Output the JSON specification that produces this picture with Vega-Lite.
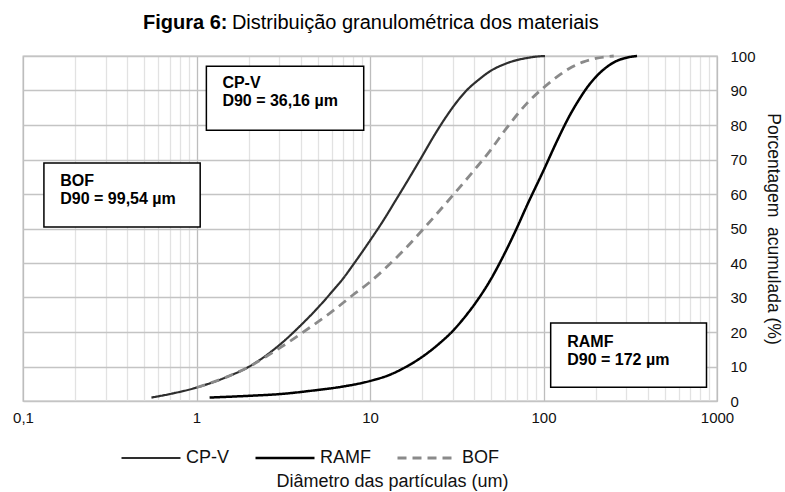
{
  "$schema": "https://vega.github.io/schema/vega-lite/v6.json",
  "autosize": {"type": "none"},
  "width": 694,
  "height": 345,
  "padding": {"left": 23, "top": 56, "right": 68, "bottom": 91},
  "background": "white",
  "title": {
    "text": "Figura 6:",
    "subtitle": "\u200b\u00a0\u00a0\u00a0\u00a0\u00a0\u00a0\u00a0\u00a0\u00a0\u00a0\u00a0\u00a0\u00a0\u00a0\u00a0\u00a0Distribuição granulométrica dos materiais",
    "anchor": "start",
    "frame": "group",
    "dx": 120,
    "offset": 16,
    "fontSize": 20,
    "font": "Liberation Sans",
    "fontWeight": "bold",
    "color": "#000",
    "subtitleFontSize": 20,
    "subtitleFont": "Liberation Sans",
    "subtitleColor": "#000",
    "subtitlePadding": -20
  },
  "datasets": {
    "curves": [
      {"serie": "CP-V", "d": 0.55, "p": 1.0},
      {"serie": "CP-V", "d": 0.7, "p": 2.0},
      {"serie": "CP-V", "d": 1, "p": 3.9},
      {"serie": "CP-V", "d": 1.5, "p": 7.0},
      {"serie": "CP-V", "d": 2, "p": 9.9},
      {"serie": "CP-V", "d": 3, "p": 16.2},
      {"serie": "CP-V", "d": 4, "p": 22},
      {"serie": "CP-V", "d": 5, "p": 27},
      {"serie": "CP-V", "d": 6, "p": 31.5},
      {"serie": "CP-V", "d": 7, "p": 35.5},
      {"serie": "CP-V", "d": 8, "p": 39.5},
      {"serie": "CP-V", "d": 10, "p": 46.5},
      {"serie": "CP-V", "d": 12, "p": 52.5},
      {"serie": "CP-V", "d": 14, "p": 58},
      {"serie": "CP-V", "d": 17, "p": 65},
      {"serie": "CP-V", "d": 20, "p": 71},
      {"serie": "CP-V", "d": 24, "p": 77.8},
      {"serie": "CP-V", "d": 28, "p": 83},
      {"serie": "CP-V", "d": 32, "p": 87},
      {"serie": "CP-V", "d": 36, "p": 90},
      {"serie": "CP-V", "d": 42, "p": 93},
      {"serie": "CP-V", "d": 50, "p": 95.8},
      {"serie": "CP-V", "d": 60, "p": 97.7},
      {"serie": "CP-V", "d": 70, "p": 98.8},
      {"serie": "CP-V", "d": 80, "p": 99.4},
      {"serie": "CP-V", "d": 90, "p": 99.8},
      {"serie": "CP-V", "d": 102, "p": 100},
      {"serie": "RAMF", "d": 1.19, "p": 1.0},
      {"serie": "RAMF", "d": 2, "p": 1.5},
      {"serie": "RAMF", "d": 3, "p": 2.0},
      {"serie": "RAMF", "d": 5, "p": 3.2},
      {"serie": "RAMF", "d": 7, "p": 4.2},
      {"serie": "RAMF", "d": 10, "p": 5.8},
      {"serie": "RAMF", "d": 13, "p": 7.6},
      {"serie": "RAMF", "d": 16, "p": 9.8},
      {"serie": "RAMF", "d": 20, "p": 12.8},
      {"serie": "RAMF", "d": 25, "p": 16.6},
      {"serie": "RAMF", "d": 30, "p": 20.3},
      {"serie": "RAMF", "d": 35, "p": 24.2},
      {"serie": "RAMF", "d": 40, "p": 28},
      {"serie": "RAMF", "d": 50, "p": 35.5},
      {"serie": "RAMF", "d": 60, "p": 43},
      {"serie": "RAMF", "d": 70, "p": 50},
      {"serie": "RAMF", "d": 80, "p": 56.5},
      {"serie": "RAMF", "d": 100, "p": 66.8},
      {"serie": "RAMF", "d": 120, "p": 75.5},
      {"serie": "RAMF", "d": 140, "p": 82.3},
      {"serie": "RAMF", "d": 160, "p": 87.3},
      {"serie": "RAMF", "d": 178, "p": 90.8},
      {"serie": "RAMF", "d": 200, "p": 93.9},
      {"serie": "RAMF", "d": 230, "p": 96.7},
      {"serie": "RAMF", "d": 265, "p": 98.6},
      {"serie": "RAMF", "d": 300, "p": 99.5},
      {"serie": "RAMF", "d": 346, "p": 100},
      {"serie": "BOF", "d": 1, "p": 3.9},
      {"serie": "BOF", "d": 1.5, "p": 7.0},
      {"serie": "BOF", "d": 2, "p": 9.9},
      {"serie": "BOF", "d": 2.6, "p": 13.3},
      {"serie": "BOF", "d": 3.5, "p": 17.5},
      {"serie": "BOF", "d": 4.5, "p": 21.3},
      {"serie": "BOF", "d": 6, "p": 25.8},
      {"serie": "BOF", "d": 8, "p": 30.8},
      {"serie": "BOF", "d": 10, "p": 34.5},
      {"serie": "BOF", "d": 13, "p": 39.7},
      {"serie": "BOF", "d": 16, "p": 44.2},
      {"serie": "BOF", "d": 20, "p": 49.5},
      {"serie": "BOF", "d": 25, "p": 55},
      {"serie": "BOF", "d": 30, "p": 59.6},
      {"serie": "BOF", "d": 40, "p": 67},
      {"serie": "BOF", "d": 50, "p": 73},
      {"serie": "BOF", "d": 60, "p": 78.5},
      {"serie": "BOF", "d": 80, "p": 86.2},
      {"serie": "BOF", "d": 100, "p": 90.8},
      {"serie": "BOF", "d": 120, "p": 94},
      {"serie": "BOF", "d": 140, "p": 96.3},
      {"serie": "BOF", "d": 170, "p": 98.3},
      {"serie": "BOF", "d": 200, "p": 99.3},
      {"serie": "BOF", "d": 254, "p": 100}
    ],
    "boxes": [
      {"d": 1.14, "d2": 9.2, "p": 78.5, "p2": 97},
      {"d": 0.132, "d2": 1.05, "p": 50.4, "p2": 69},
      {"d": 110, "d2": 870, "p": 4, "p2": 22.6}
    ],
    "labels": [
      {"d": 1.41, "p": 94.4, "label": "CP-V\nD90 = 36,16 µm"},
      {"d": 0.164, "p": 66, "label": "BOF\nD90 = 99,54 µm"},
      {"d": 137, "p": 19.5, "label": "RAMF\nD90 = 172 µm"}
    ]
  },
  "encoding": {
    "x": {
      "field": "d",
      "type": "quantitative",
      "scale": {"type": "log", "domain": [0.1, 1000], "nice": false},
      "axis": {
        "title": "Diâmetro das partículas (um)",
        "values": [0.1,0.2,0.3,0.4,0.5,0.6,0.7,0.8,0.9,1,2,3,4,5,6,7,8,9,10,20,30,40,50,60,70,80,90,100,200,300,400,500,600,700,800,900,1000],
        "labelExpr": "datum.value == 0.1 ? '0,1' : (indexof([1,10,100,1000], datum.value) >= 0 ? datum.label : '')",
        "format": "d",
        "grid": true,
        "gridColor": {"condition": {"test": "indexof([0.1,1,10,100,1000], datum.value) >= 0", "value": "#bdbdbd"}, "value": "#e2e2e2"},
        "gridWidth": 1.3,
        "ticks": false,
        "domain": false,
        "labelOverlap": false,
        "labelFlush": false,
        "labelBound": false,
        "labelPadding": 9,
        "labelFontSize": 15,
        "titleFontSize": 18,
        "titlePadding": 47,
        "titleX": 369,
        "titleAlign": "center"
      }
    },
    "y": {
      "field": "p",
      "type": "quantitative",
      "scale": {"domain": [0, 100], "nice": false},
      "axis": {
        "orient": "right",
        "title": "Porcentagem\u00a0 acumulada (%)",
        "values": [0,10,20,30,40,50,60,70,80,90,100],
        "grid": true,
        "gridColor": "#c4c4c4",
        "gridWidth": 1.3,
        "ticks": false,
        "domain": false,
        "labelPadding": 13,
        "labelFontSize": 15,
        "labelOverlap": false,
        "labelBound": false,
        "labelFlush": false,
        "titleFontSize": 17.5,
        "titlePadding": 8
      }
    }
  },
  "layer": [
    {
      "data": {"name": "curves"},
      "mark": {"type": "line", "interpolate": "monotone"},
      "encoding": {
        "color": {
          "field": "serie",
          "type": "nominal",
          "scale": {"domain": ["CP-V", "RAMF", "BOF"], "range": ["#2e2e2e", "#000000", "#8a8a8a"]},
          "legend": {"title": null}
        },
        "strokeDash": {
          "field": "serie",
          "type": "nominal",
          "scale": {"domain": ["CP-V", "RAMF", "BOF"], "range": [[1, 0], [1, 0], [9, 6]]},
          "legend": {"title": null}
        },
        "strokeWidth": {
          "field": "serie",
          "type": "nominal",
          "scale": {"domain": ["CP-V", "RAMF", "BOF"], "range": [2.2, 2.8, 2.4]},
          "legend": {"title": null}
        }
      }
    },
    {
      "data": {"name": "boxes"},
      "mark": {"type": "rect", "fill": "white", "stroke": "#000", "strokeWidth": 1.5},
      "encoding": {
        "x2": {"field": "d2"},
        "y2": {"field": "p2"}
      }
    },
    {
      "data": {"name": "labels"},
      "mark": {"type": "text", "align": "left", "baseline": "top", "lineBreak": "\n", "fontSize": 16, "fontWeight": "bold", "font": "Liberation Sans", "lineHeight": 18, "color": "#000"},
      "encoding": {
        "text": {"field": "label"}
      }
    }
  ],
  "config": {
    "font": "Liberation Sans",
    "view": {"stroke": "#bdbdbd", "strokeWidth": 1.3},
    "axis": {"labelColor": "#111", "titleColor": "#111", "titleFontWeight": "normal", "labelFont": "Liberation Sans", "titleFont": "Liberation Sans"},
    "legend": {
      "orient": "none",
      "legendX": 97,
      "legendY": 371,
      "direction": "horizontal",
      "symbolType": "stroke",
      "symbolSize": 3481,
      "labelFontSize": 18,
      "labelColor": "#111",
      "labelFont": "Liberation Sans",
      "columnPadding": 20,
      "labelOffset": 4,
      "symbolStrokeWidth": 2.5
    }
  }
}
